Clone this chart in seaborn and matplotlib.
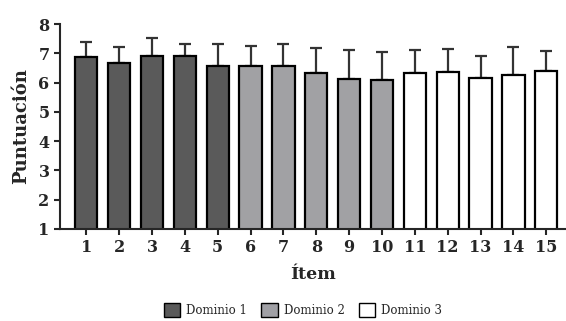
import numpy as np
import pandas as pd
import seaborn as sns
import matplotlib.pyplot as plt
from matplotlib.patches import Patch

# data
items = ['1', '2', '3', '4', '5', '6', '7', '8', '9', '10', '11', '12', '13', '14', '15']
dominios = ['Dominio 1'] * 5 + ['Dominio 2'] * 5 + ['Dominio 3'] * 5
medias = [6.86, 6.66, 6.90, 6.92, 6.55, 6.58, 6.58, 6.33, 6.11, 6.09, 6.33, 6.37, 6.15, 6.26, 6.39]
desv = [0.53, 0.57, 0.63, 0.40, 0.78, 0.68, 0.75, 0.85, 1.02, 0.96, 0.80, 0.79, 0.77, 0.95, 0.70]
colores = {'Dominio 1': '#5a5a5a', 'Dominio 2': '#a0a0a5', 'Dominio 3': '#ffffff'}

df = pd.DataFrame({'Ítem': items, 'Dominio': dominios, 'Puntuación': medias})

sns.set_style('ticks')
plt.rcParams['font.family'] = ['DejaVu Serif']

fig = plt.figure(figsize=(5.66, 3.21), dpi=100)
ax = fig.add_axes([0.106, 0.287, 0.894, 0.638])

sns.barplot(data=df, x='Ítem', y='Puntuación', hue='Dominio', palette=colores,
            dodge=False, width=0.68, edgecolor='black', linewidth=1.6,
            legend=False, ax=ax, zorder=2)

x = np.arange(len(items))
ax.errorbar(x, medias, yerr=[np.zeros(len(desv)), desv], fmt='none',
            ecolor='#333333', elinewidth=1.6, capsize=4, capthick=1.6, zorder=1)

ax.set_ylim(1, 8)
ax.set_xlim(-0.8, 14.6)
ax.set_yticks(range(1, 9))
ax.spines['top'].set_visible(False)
ax.spines['right'].set_visible(False)
ax.spines['left'].set_linewidth(1.5)
ax.spines['bottom'].set_linewidth(1.5)
ax.tick_params(axis='both', width=1.5, length=4, labelsize=11.5)
for lab in ax.get_xticklabels() + ax.get_yticklabels():
    lab.set_fontweight('bold')
ax.set_ylabel('Puntuación', fontsize=13, fontweight='bold', labelpad=6)
ax.set_xlabel('Ítem', fontsize=12.5, fontweight='bold', labelpad=7)

handles = [Patch(facecolor=colores[d], edgecolor='black', linewidth=1.0, label=d)
           for d in ['Dominio 1', 'Dominio 2', 'Dominio 3']]
fig.legend(handles=handles, loc='center', bbox_to_anchor=(0.535, 0.035), ncol=3,
           frameon=False, fontsize=8.5, handlelength=1.4, handleheight=1.4,
           columnspacing=1.2, handletextpad=0.5)

fig.savefig('out.png', dpi=100)
